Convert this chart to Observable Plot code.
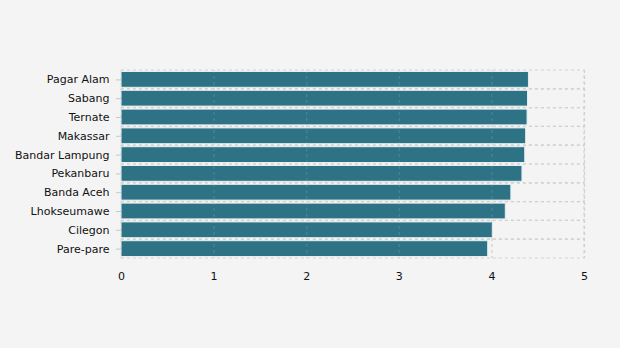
<!DOCTYPE html>
<html><head><meta charset="utf-8">
<script src="https://cdn.jsdelivr.net/npm/d3@7"></script>
<script src="https://cdn.jsdelivr.net/npm/@observablehq/plot@0.6"></script>
<style>
html,body{margin:0;padding:0;background:#f4f4f4;}
</style>
</head><body>
<div id="chart"></div>
<script>
const cities = ["Pagar Alam","Sabang","Ternate","Makassar","Bandar Lampung","Pekanbaru","Banda Aceh","Lhokseumawe","Cilegon","Pare-pare"];
const values = [4.40,4.39,4.385,4.37,4.36,4.33,4.21,4.15,4.01,3.96];
const xDomain = [0,5];
const xTicks = [0,1,2,3,4,5];

const data = cities.map((c,i)=>({city:c, value:values[i]}));

const chart = Plot.plot({
  width: 620,
  height: 348,
  marginLeft: 121,
  marginRight: 36,
  marginTop: 70,
  marginBottom: 90,
  style: {background:"#f4f4f4", fontFamily:"DejaVu Sans, Verdana, sans-serif", fontSize:"11px", color:"#111"},
  x: {domain: xDomain, ticks: xTicks, tickFormat: "d", label: null, tickSize: 0, tickPadding: 14},
  y: {domain: cities, label: null, padding: 0, round: false},
  marks: [
    Plot.barX(data, {y:"city", x1: xDomain[0], x2: xDomain[1], fill:"none", stroke:"#d2d2d2", strokeDasharray:"3,3", strokeWidth:1.2}),
    Plot.gridX(xTicks, {stroke:"#d2d2d2", strokeOpacity:1, strokeDasharray:"3,3", strokeWidth:1.2}),
    Plot.barX(data, {y:"city", x:"value", fill:"#2e7285", stroke:"#e6eef0", strokeWidth:1, insetTop:1.5, insetBottom:1.5}),
    Plot.gridX(xTicks, {stroke:"#d2d2d2", strokeOpacity:0.18, strokeDasharray:"3,3", strokeWidth:1.2}),
    Plot.axisY({tickSize:5, tickPadding:7, stroke:"#c8c8c8", fontSize:11}),
  ]
});
document.getElementById("chart").appendChild(chart);
</script>
</body></html>
